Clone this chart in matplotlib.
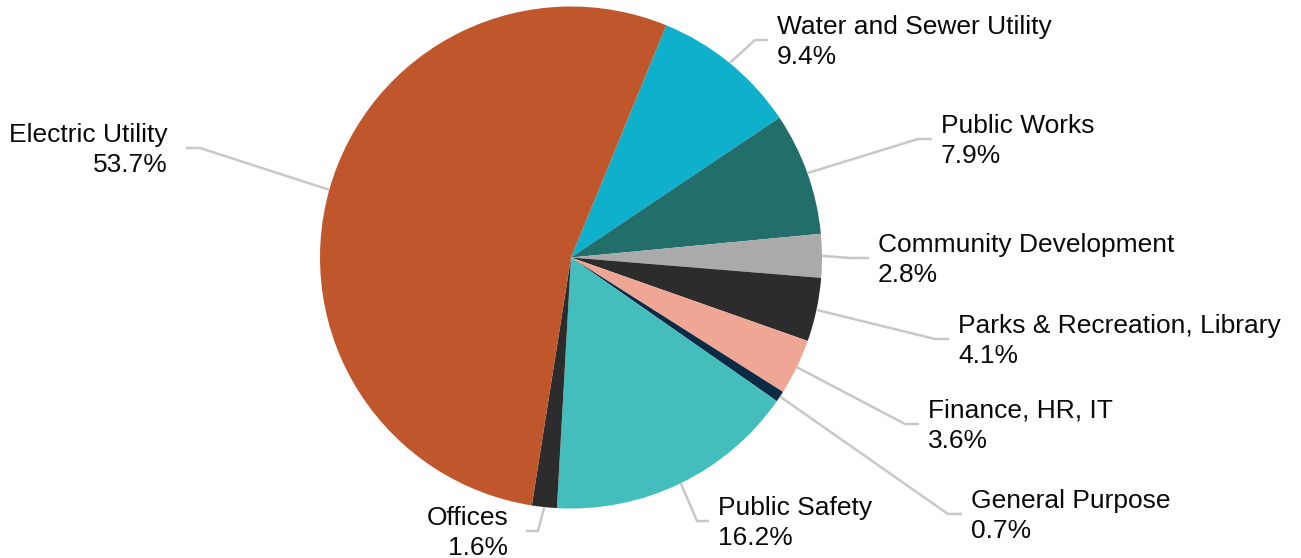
import numpy as np
import matplotlib
matplotlib.use('Agg')
import matplotlib.pyplot as plt

plt.rcParams['font.family'] = ['Liberation Sans', 'DejaVu Sans']

# data, clockwise from the top
categories = ['Water and Sewer Utility', 'Public Works', 'Community Development',
              'Parks & Recreation, Library', 'Finance, HR, IT', 'General Purpose',
              'Public Safety', 'Offices', 'Electric Utility']
shares = [9.4, 7.9, 2.8, 4.1, 3.6, 0.7, 16.2, 1.6, 53.7]
colors = ['#0EB0CC', '#216E6B', '#AAAAAA', '#2C2C2C', '#EFA694',
          '#0A2A46', '#44BDBD', '#2C2C2C', '#C0562B']

# label layout in pixels (y from the top): elbow x, elbow y, text x, alignment
W, H = 1301, 558
layout = {
    'Water and Sewer Utility':     (755, 40, 777, 'left'),
    'Public Works':                (918, 139, 941, 'left'),
    'Community Development':       (850, 258, 878, 'left'),
    'Parks & Recreation, Library': (935, 339, 958, 'left'),
    'Finance, HR, IT':             (905, 424, 928, 'left'),
    'General Purpose':             (948, 514, 971, 'left'),
    'Public Safety':               (697, 521, 718, 'left'),
    'Offices':                     (538, 531, 508, 'right'),
    'Electric Utility':            (200, 148, 168, 'right'),
}

fig = plt.figure(figsize=(W / 100, H / 100), dpi=100)
ax = fig.add_axes([0, 0, 1, 1])

cx, cy, r = 571, H - 257.5, 251
wedges, _ = ax.pie(shares, colors=colors, startangle=67.7, counterclock=False,
                   center=(cx, cy), radius=r, frame=True,
                   wedgeprops=dict(linewidth=0))
ax.set_xlim(0, W)
ax.set_ylim(0, H)
ax.set_aspect('equal')
ax.axis('off')

line_col = '#C8C8C8'
for w, name, val in zip(wedges, categories, shares):
    ang = np.deg2rad((w.theta1 + w.theta2) / 2)
    sx, sy = cx + r * np.cos(ang), cy + r * np.sin(ang)
    ex, ey, tx, ha = layout[name]
    ey = H - ey
    if ha == 'right':
        stub = tx + 18 - ex
    else:
        stub = tx - 9 - ex
    ax.plot([sx, ex, ex + stub], [sy, ey, ey], color=line_col, lw=1.8,
            solid_capstyle='butt', zorder=1)
    ax.text(tx, ey - 2, f'{name}\n{val:.1f}%', ha=ha, va='center',
            multialignment=ha, fontsize=19, color='#0A0A0A', linespacing=1.33)

fig.savefig('out.png', dpi=100)
